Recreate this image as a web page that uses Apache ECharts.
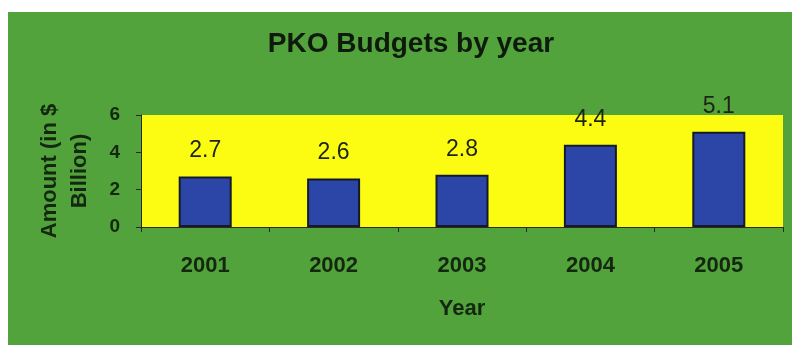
<!DOCTYPE html>
<html>
<head>
<meta charset="utf-8">
<script src="https://cdn.jsdelivr.net/npm/echarts@6/dist/echarts.min.js"></script>
<style>
  html, body { margin: 0; padding: 0; background: #ffffff; }
  #wrap { position: relative; width: 792px; height: 349px; background: #ffffff; overflow: hidden; }
  #chart { position: absolute; left: 8px; top: 12px; width: 784px; height: 333px; }
</style>
</head>
<body>
<div id="wrap"><div id="chart"></div></div>
<script>
const titleText = 'PKO Budgets by year';
const categories = ['2001', '2002', '2003', '2004', '2005'];
const budgets = [2.7, 2.6, 2.8, 4.4, 5.1];
const yTicks = { min: 0, max: 6, interval: 2 };
const xName = 'Year';
const yName = 'Amount (in $\nBillion)';

const font = '"Liberation Sans", Arial, sans-serif';
const darkText = '#13280f';

const chart = echarts.init(document.getElementById('chart'), null, { renderer: 'canvas' });
chart.setOption({
  animation: false,
  backgroundColor: '#52a33c',
  title: {
    text: titleText,
    left: 398,
    top: 13,
    textAlign: 'center',
    textStyle: { fontFamily: font, fontWeight: 'bold', fontSize: 28, color: '#0e1a0c' }
  },
  grid: {
    left: 133, top: 103, right: 9, bottom: 118,
    show: true, backgroundColor: '#fcfc12', borderWidth: 0
  },
  xAxis: {
    type: 'category',
    data: categories,
    name: xName,
    nameLocation: 'middle',
    nameGap: 71,
    nameTextStyle: { fontFamily: font, fontWeight: 'bold', fontSize: 22, color: darkText },
    axisLine: { show: true, lineStyle: { color: '#2a2a22', width: 1 } },
    axisTick: { show: true, alignWithLabel: false, length: 5, lineStyle: { color: '#2a2a22' } },
    axisLabel: { fontFamily: font, fontWeight: 'bold', fontSize: 22, color: darkText, margin: 28 },
    splitLine: { show: false }
  },
  yAxis: {
    type: 'value',
    min: yTicks.min, max: yTicks.max, interval: yTicks.interval,
    name: yName,
    nameLocation: 'middle',
    nameGap: 46,
    nameTextStyle: { fontFamily: font, fontWeight: 'bold', fontSize: 22, color: darkText, lineHeight: 30, align: 'center' },
    axisLine: { show: true, lineStyle: { color: '#2a2a22', width: 1 } },
    axisTick: { show: true, length: 5, lineStyle: { color: '#2a2a22' } },
    axisLabel: { fontFamily: font, fontWeight: 'bold', fontSize: 19, color: darkText, margin: 21 },
    splitLine: { show: false }
  },
  series: [{
    type: 'bar',
    data: budgets,
    barWidth: 53,
    itemStyle: { color: '#2b46a6', borderColor: '#141a2a', borderWidth: 2 },
    label: {
      show: true, position: 'top', distance: 14,
      fontFamily: font, fontSize: 23, color: '#1c2418',
      formatter: p => p.value.toFixed(1)
    }
  }]
});
</script>
</body>
</html>
